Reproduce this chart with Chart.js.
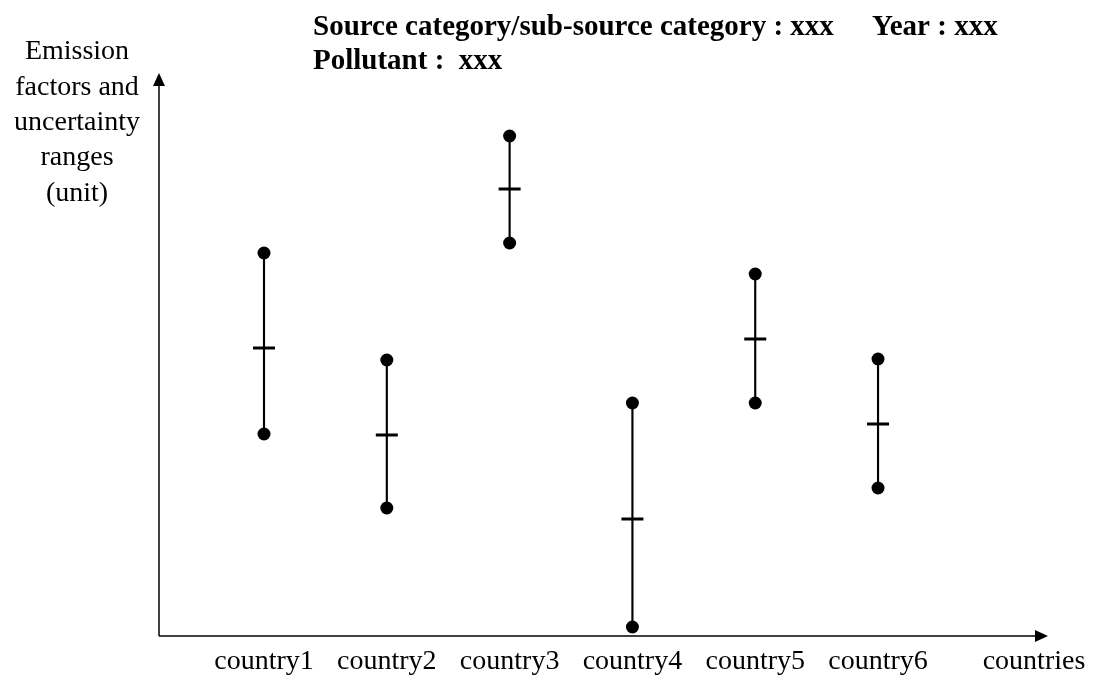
<!DOCTYPE html>
<html lang="en">
<head>
    <meta charset="UTF-8">
    <title>Emission factors by country</title>
    <script src="https://cdn.jsdelivr.net/npm/chart.js"></script>
    <style>
        body { margin: 0; background: #fff; }
    </style>
</head>
<body>
    <canvas id="efChart" width="1100" height="678"></canvas>

    <script>
        // data (arbitrary units, axis has no ticks)
        const countries = ['country1', 'country2', 'country3', 'country4', 'country5', 'country6'];
        const upper = [38.3, 27.6, 50.0, 23.3, 36.2, 27.7];
        const mean  = [28.8, 20.1, 44.7, 11.7, 29.7, 21.2];
        const lower = [20.2, 12.8, 39.3, 0.9, 23.3, 14.8];

        const xAxisTitle = 'countries';
        const yAxisTitle = ['Emission', 'factors and', 'uncertainty', 'ranges', '(unit)'];
        const titleLeft = 'Source category/sub-source category : xxx';
        const titleRight = 'Year : xxx';
        const subTitle = 'Pollutant :  xxx';

        const serif = "'Liberation Serif', 'Times New Roman', serif";

        // axes with arrow heads + all the text around the plot
        const decorations = {
            id: 'decorations',
            afterDraw(chart) {
                const ctx = chart.ctx;
                const area = chart.chartArea;
                const xs = chart.scales.x;
                ctx.save();
                ctx.strokeStyle = '#000';
                ctx.fillStyle = '#000';
                ctx.lineWidth = 1.5;

                // y axis
                ctx.beginPath();
                ctx.moveTo(area.left, area.bottom);
                ctx.lineTo(area.left, area.top + 10);
                ctx.stroke();
                ctx.beginPath();
                ctx.moveTo(area.left, area.top);
                ctx.lineTo(area.left - 6, area.top + 13);
                ctx.lineTo(area.left + 6, area.top + 13);
                ctx.closePath();
                ctx.fill();

                // x axis
                ctx.beginPath();
                ctx.moveTo(area.left, area.bottom);
                ctx.lineTo(area.right - 10, area.bottom);
                ctx.stroke();
                ctx.beginPath();
                ctx.moveTo(area.right, area.bottom);
                ctx.lineTo(area.right - 13, area.bottom - 6);
                ctx.lineTo(area.right - 13, area.bottom + 6);
                ctx.closePath();
                ctx.fill();

                // category labels
                ctx.font = '28px ' + serif;
                ctx.textAlign = 'center';
                ctx.textBaseline = 'middle';
                countries.forEach((c, i) => {
                    ctx.fillText(c, xs.getPixelForValue(i), area.bottom + 26);
                });
                ctx.fillText(xAxisTitle, 1034, area.bottom + 26);

                // y axis title
                yAxisTitle.forEach((line, i) => {
                    ctx.fillText(line, 77, 52 + i * 35.3);
                });

                // header
                ctx.font = 'bold 29px ' + serif;
                ctx.textAlign = 'left';
                ctx.fillText(titleLeft, 313, 28);
                ctx.fillText(titleRight, 872, 28);
                ctx.fillText(subTitle, 313, 62);
                ctx.restore();
            }
        };

        const idx = countries.map((c, i) => i);

        new Chart(document.getElementById('efChart'), {
            type: 'bar',
            data: {
                datasets: [
                    {
                        type: 'scatter',
                        label: 'upper',
                        data: idx.map(i => ({ x: i, y: upper[i] })),
                        pointRadius: 6.5,
                        pointBackgroundColor: '#000',
                        pointBorderWidth: 0,
                        order: 1
                    },
                    {
                        type: 'scatter',
                        label: 'lower',
                        data: idx.map(i => ({ x: i, y: lower[i] })),
                        pointRadius: 6.5,
                        pointBackgroundColor: '#000',
                        pointBorderWidth: 0,
                        order: 1
                    },
                    {
                        type: 'scatter',
                        label: 'mean',
                        data: idx.map(i => ({ x: i, y: mean[i] })),
                        pointStyle: 'line',
                        pointRadius: 11,
                        borderColor: '#000',
                        pointBorderWidth: 3,
                        order: 1
                    },
                    {
                        label: 'range',
                        data: idx.map(i => ({ x: i, y: [lower[i], upper[i]] })),
                        backgroundColor: '#000',
                        barThickness: 1.5,
                        order: 2
                    }
                ]
            },
            options: {
                responsive: false,
                animation: false,
                layout: {
                    padding: { left: 159, right: 52, top: 73, bottom: 42 }
                },
                scales: {
                    x: { type: 'linear', min: -0.855, max: 6.384, offset: false, display: false },
                    y: { min: 0, max: 56.3, display: false }
                },
                plugins: {
                    legend: { display: false },
                    tooltip: { enabled: false }
                }
            },
            plugins: [decorations]
        });
    </script>
</body>
</html>
